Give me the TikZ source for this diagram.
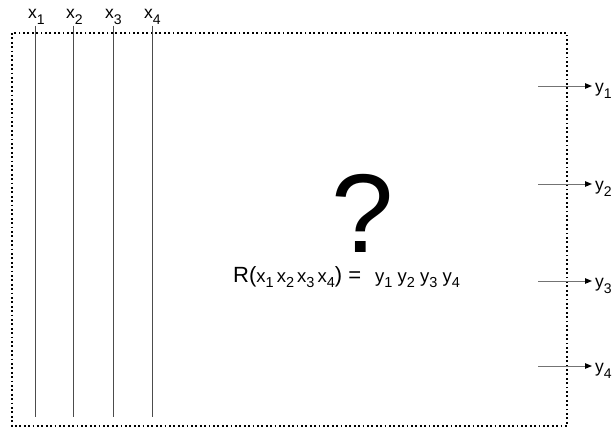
\documentclass[tikz,border=0pt]{standalone}
\usepackage{fontspec}
\setmainfont{Liberation Sans}
\usetikzlibrary{arrows.meta,positioning}
\newcommand{\lowidx}[1]{\raisebox{-6.5pt}{\fontsize{14}{14}\selectfont #1}}
\newcommand{\eqidx}[1]{\raisebox{-5pt}{\fontsize{14.5}{15}\selectfont #1}}
\tikzset{
  inlbl/.style={font=\fontsize{17.5}{19}\selectfont,inner sep=0pt,outer sep=1pt,anchor=base west},
  outlbl/.style={font=\fontsize{17.5}{19}\selectfont,inner sep=0pt,anchor=base west},
  wire/.style={line width=0.9pt,color=black!70},
  frame/.style={line width=1.2pt,dash pattern=on 1.8pt off 2.6pt},
  outarr/.style={-{Triangle[length=7pt,width=5.5pt,color=black]},line width=1pt,color=black!55,shorten >=3pt},
  qmark/.style={font=\fontsize{112}{112}\selectfont,inner sep=0pt,text depth=0pt,anchor=base},
  eqlbl/.style={font=\fontsize{22}{24}\selectfont,inner sep=0pt,anchor=base west}}
\begin{document}
\begin{tikzpicture}[x=1pt,y=-1pt]
\useasboundingbox (0,0) rectangle (613,431);
% black box
\draw[frame] (12,33) rectangle (567,426);
% inputs
\node[inlbl] (x1) at (27,18) {x\lowidx{1}};
\node[inlbl] (x2) at (65,18) {x\lowidx{2}};
\node[inlbl] (x3) at (104,18) {x\lowidx{3}};
\node[inlbl] (x4) at (143,18) {x\lowidx{4}};
\coordinate (b1) at (35,417); \coordinate (b2) at (73,417); \coordinate (b3) at (113,417); \coordinate (b4) at (152,417);
\draw[wire] (b1 |- x1.south) -- (b1); \draw[wire] (b2 |- x2.south) -- (b2);
\draw[wire] (b3 |- x3.south) -- (b3); \draw[wire] (b4 |- x4.south) -- (b4);
% outputs
\coordinate (s1) at (538,86); \coordinate (s2) at (538,184); \coordinate (s3) at (538,281); \coordinate (s4) at (538,366);
\node[outlbl] (y1) at (595,92) {y\lowidx{1}};
\node[outlbl] (y2) at (595,190) {y\lowidx{2}};
\node[outlbl] (y3) at (595,287) {y\lowidx{3}};
\node[outlbl] (y4) at (595,372) {y\lowidx{4}};
\draw[outarr] (s1) -- (s1 -| y1.west); \draw[outarr] (s2) -- (s2 -| y2.west);
\draw[outarr] (s3) -- (s3 -| y3.west); \draw[outarr] (s4) -- (s4 -| y4.west);
% relation
\node[qmark] (q) at (363,252) {?};
\node[eqlbl] (rel) at (233,282) {R({\fontsize{18.5}{20}\selectfont x\eqidx{1}\,x\eqidx{2}\,x\eqidx{3}\,x\eqidx{4}}) =\hspace{14pt}{\fontsize{18.5}{20}\selectfont y\eqidx{1} y\eqidx{2} y\eqidx{3} y\eqidx{4}}};
\end{tikzpicture}
\end{document}
